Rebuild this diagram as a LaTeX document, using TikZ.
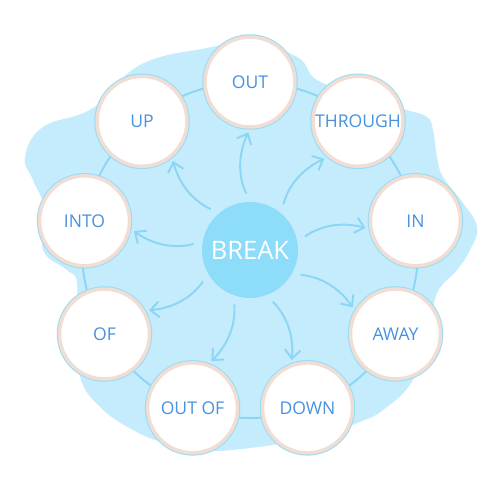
\documentclass[tikz,border=0pt]{standalone}
\usepackage{fontspec}
\setmainfont{Open Sans}
\usetikzlibrary{arrows.meta,calc,positioning}

\definecolor{blobblue}{RGB}{196,236,252}
\definecolor{hubblue}{RGB}{141,220,250}
\definecolor{ringblue}{RGB}{140,214,245}
\definecolor{rimblue}{RGB}{150,220,245}
\definecolor{sandring}{RGB}{240,222,212}
\definecolor{wordblue}{RGB}{72,146,222}

\begin{document}
\begin{tikzpicture}[x=0.02cm,y=0.02cm,
	word/.style={circle,fill=white,draw=sandring,line width=0.07cm,minimum size=1.8cm,inner sep=0pt,text=wordblue,font=\fontsize{10}{12}\selectfont,preaction={draw=rimblue,line width=0.11cm}},
	hub/.style={circle,fill=hubblue,minimum size=1.92cm,inner sep=0pt,text=white,font=\fontsize{14.5}{17}\selectfont},
	spoke/.style={draw=ringblue,line width=1.1pt,-{Straight Barb[length=5pt,width=9pt]},shorten <=0.18cm,shorten >=0.08cm}]

		\useasboundingbox (0,0) rectangle (500,500);
		\fill[white] (0,0) rectangle (500,500);

		% background blob
		\fill[blobblue] plot[smooth cycle,tension=0.7] coordinates {
			(25,343) (43,373) (93,392) (140,435) (207,452) (250,457) (297,443) (317,420)
			(360,405) (407,390) (427,383) (433,370) (437,343) (443,323) (463,297) (477,273)
			(470,250) (457,230) (437,207) (430,170) (413,120) (383,90) (357,77) (317,63)
			(250,52) (200,49) (167,56) (133,70) (100,93) (80,123) (75,170) (77,217)
			(67,230) (43,250) (45,290) (33,320)};

		\node[hub]							(brk)		at (250,250)	{BREAK};

		\draw[ringblue,line width=1.1pt] (brk.center) circle[radius=168];

		\foreach \n/\t/\a in {out/OUT/90,through/THROUGH/50,in/IN/10,away/AWAY/-30,down/DOWN/-70,outof/OUT OF/-110,of/OF/-150,into/INTO/170,up/UP/130}
			\node[word]						(\n)		at ($(brk)+(\a:168)$)	{\t};

		\foreach \n/\a in {out/90,through/50,in/10,away/-30,down/-70,outof/-110,of/-150,into/170,up/130}
		{
			\pgfmathtruncatemacro\b{\a+180}
			\draw[spoke] (brk.\a) to[bend left=25] (\n.\b);
		}
	\end{tikzpicture}
\end{document}
